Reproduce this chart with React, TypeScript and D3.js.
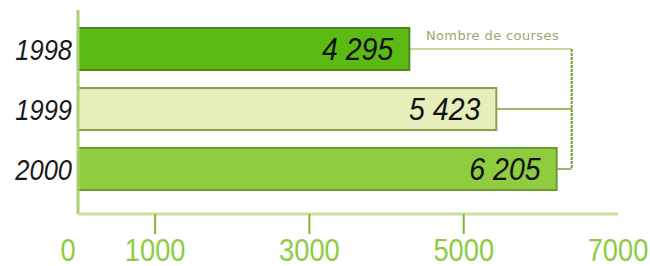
import { useMemo } from 'react';
import * as d3 from 'd3';

// chart values
const years = ['1998', '1999', '2000'];
const courses = [4295, 5423, 6205];
const valueLabels = ['4 295', '5 423', '6 205'];
const tickValues = [0, 1000, 3000, 5000, 7000];
const tickMarks = [1000, 3000, 5000];
const legendLabel = 'Nombre de courses';

const W = 650;
const H = 266;

const barFill = ['#5cba14', '#e6efbc', '#8fcc40'];
const barEdge = ['#4a8a18', '#8e9e48', '#6a9a30'];

const numFont = '"Liberation Sans", Arial, sans-serif';

// condensed text: no narrow font installed, so squeeze horizontally
function Squeezed({ x, y, sx, children, ...rest }: any) {
	return (
		<text transform={`translate(${x},${y}) scale(${sx},1)`} {...rest}>
			{children}
		</text>
	);
}

export default function App() {
	const x = useMemo(() => d3.scaleLinear().domain([0, 7000]).range([78, 618]), []);
	const y = useMemo(
		() => d3.scaleBand<string>().domain(years).range([19, 199]).paddingInner(0.3).paddingOuter(0.15),
		[]
	);

	const axisY = 214;
	const bracketX = x(d3.max(courses) as number) + 15;
	const mid = (yr: string) => (y(yr) as number) + y.bandwidth() / 2;

	return (
		<svg width={W} height={H} style={{ position: 'absolute', left: 0, top: 0, background: '#fff' }}>
			{/* bracket joining the bars to the legend */}
			<g strokeWidth={2} fill="none">
				{years.map((yr, i) => (
					<line key={yr} x1={x(courses[i])} x2={bracketX} y1={mid(yr)} y2={mid(yr)} stroke={i === 0 ? '#c4d8a0' : '#9cb860'} />
				))}
				<line x1={bracketX} x2={bracketX} y1={mid(years[0])} y2={mid(years[2])} stroke="#6e9e2c" strokeDasharray="3,1" />
			</g>
			<text x={(x(courses[0]) + bracketX) / 2 + 2} y={mid(years[0]) - 9} textAnchor="middle" fontFamily='"DejaVu Sans", sans-serif' fontSize={13} fill="#9ca86c" letterSpacing={0.4}>
				{legendLabel}
			</text>

			{/* bars */}
			{years.map((yr, i) => (
				<rect key={yr} x={x(0)} y={y(yr)} width={x(courses[i]) - x(0)} height={y.bandwidth()} fill={barFill[i]} stroke={barEdge[i]} strokeWidth={2} />
			))}

			{/* value labels inside bars */}
			{years.map((yr, i) => (
				<Squeezed key={yr} x={x(courses[i]) - 16} y={mid(yr) + 11} sx={0.92} textAnchor="end" fontFamily={numFont} fontStyle="italic" fontSize={31} fill="#111">
					{valueLabels[i]}
				</Squeezed>
			))}

			{/* year labels */}
			{years.map((yr) => (
				<Squeezed key={yr} x={72} y={mid(yr) + 11} sx={0.85} textAnchor="end" fontFamily={numFont} fontStyle="italic" fontSize={30} fill="#1a1a1a">
					{yr}
				</Squeezed>
			))}

			{/* axes */}
			<line x1={x(0)} x2={x(0)} y1={10} y2={axisY} stroke="#a8d070" strokeWidth={3} />
			<line x1={x(0)} x2={x(7000)} y1={axisY} y2={axisY} stroke="#c8e0a0" strokeWidth={3} />
			{tickMarks.map((t) => (
				<line key={t} x1={x(t)} x2={x(t)} y1={axisY} y2={axisY + 20} stroke="#7cba34" strokeWidth={2} />
			))}
			{tickValues.map((t) => (
				<Squeezed key={t} x={t === 0 ? x(t) - 10 : x(t)} y={261} sx={0.88} textAnchor="middle" fontFamily={numFont} fontSize={31} fill="#8ccc40">
					{t}
				</Squeezed>
			))}
		</svg>
	);
}
